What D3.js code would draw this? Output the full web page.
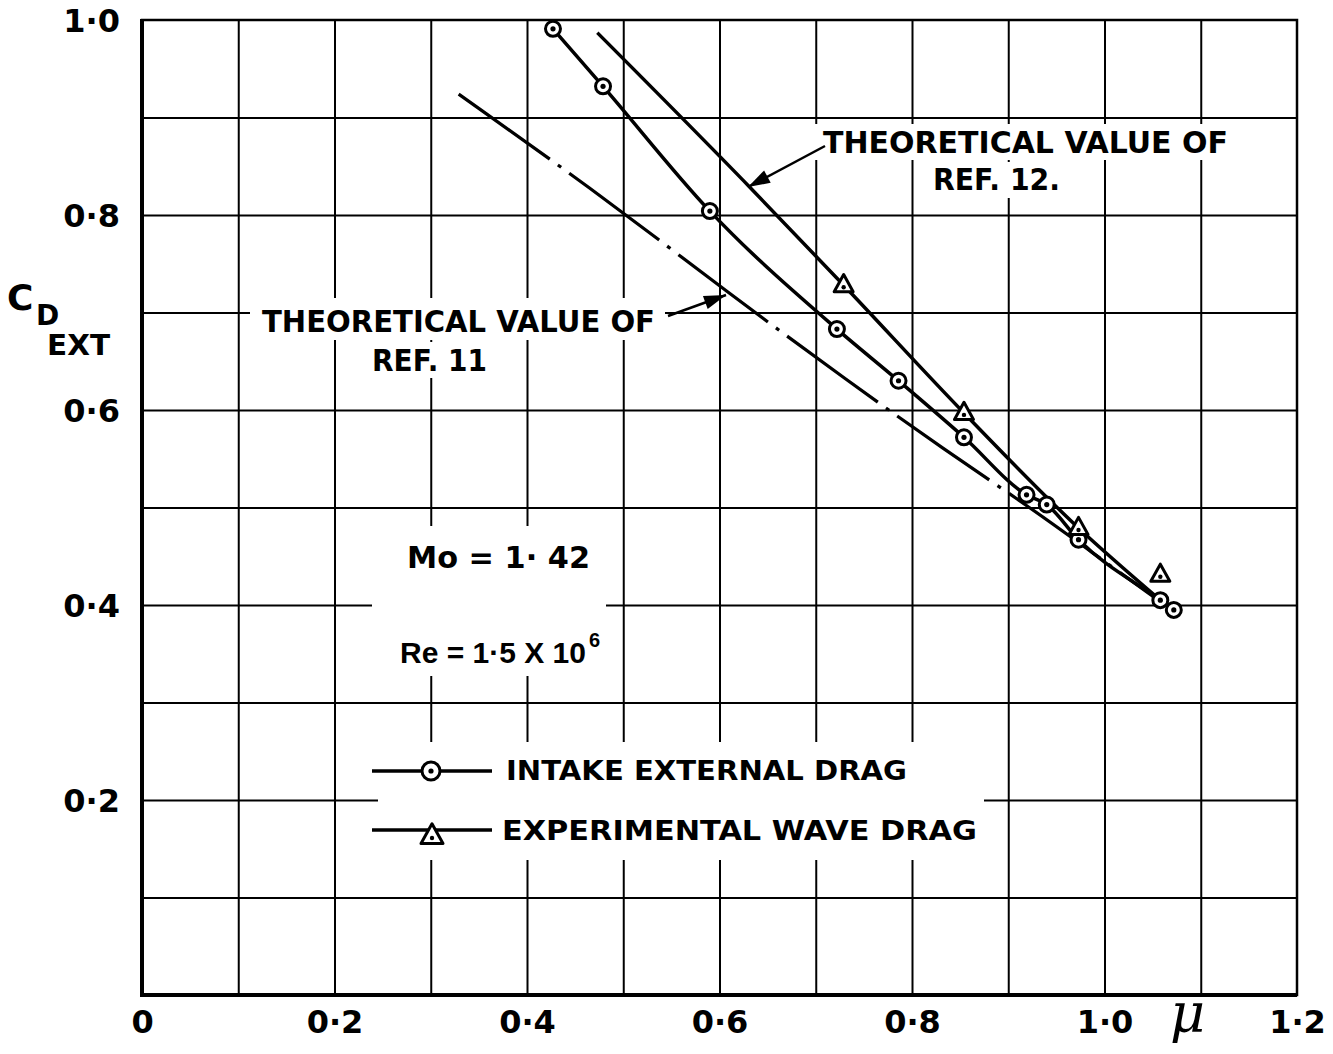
<!DOCTYPE html>
<html>
<head>
<meta charset="utf-8">
<script src="https://cdn.jsdelivr.net/npm/d3@7"></script>
<style>
  html, body { margin: 0; padding: 0; background: #fff; }
  svg { display: block; }
  text { font-family: "DejaVu Sans", sans-serif; font-weight: bold; fill: #000; }
</style>
</head>
<body>
<svg id="chart" width="1333" height="1054"></svg>
<script>
// ---- data ----
const xTickValues = [0, 0.2, 0.4, 0.6, 0.8, 1.0, 1.2];
const xTickLabels = ["0", "0·2", "0·4", "0·6", "0·8", "1·0", "1·2"];
const yTickValues = [0.2, 0.4, 0.6, 0.8, 1.0];
const yTickLabels = ["0·2", "0·4", "0·6", "0·8", "1·0"];
const gridMu = [0.1, 0.2, 0.3, 0.4, 0.5, 0.6, 0.7, 0.8, 0.9, 1.0, 1.1];
const gridCd = [0.1, 0.2, 0.3, 0.4, 0.5, 0.6, 0.7, 0.8, 0.9];

// Intake external drag (circles)
const intakeMu = [0.427, 0.479, 0.590, 0.722, 0.786, 0.854, 0.919, 0.940, 0.973, 1.058, 1.072];
const intakeCd = [0.991, 0.932, 0.804, 0.683, 0.630, 0.572, 0.513, 0.503, 0.467, 0.405, 0.395];

// Experimental wave drag (triangles)
const waveMu = [0.729, 0.854, 0.973, 1.058];
const waveCd = [0.728, 0.597, 0.479, 0.431];

// Theoretical value of Ref. 12 (solid)
const ref12Mu = [0.473, 0.632, 0.729, 0.854, 0.973, 1.058];
const ref12Cd = [0.987, 0.828, 0.728, 0.597, 0.479, 0.405];

// Theoretical value of Ref. 11 (dash-dot)
const ref11Mu = [0.329, 0.476, 0.609, 0.736, 0.834, 0.923, 0.994, 1.053];
const ref11Cd = [0.924, 0.821, 0.720, 0.628, 0.559, 0.500, 0.449, 0.407];

// ---- layout ----
const svg = d3.select("#chart");
const x = d3.scaleLinear().domain([0, 1.2]).range([142, 1297]);
const y = d3.scaleLinear().domain([0, 1.0]).range([995, 20]);
const plotH = y(0) - y(1);
const plotW = x(1.2) - x(0);

// grid via axes
const gx = svg.append("g").attr("transform", `translate(0,${y(0)})`)
  .call(d3.axisBottom(x).tickValues(gridMu).tickSize(-plotH).tickFormat(""));
gx.select(".domain").remove();
gx.selectAll("line").attr("stroke", "#000").attr("stroke-width", 2);

const gy = svg.append("g").attr("transform", `translate(${x(0)},0)`)
  .call(d3.axisLeft(y).tickValues(gridCd).tickSize(-plotW).tickFormat(""));
gy.select(".domain").remove();
gy.selectAll("line").attr("stroke", "#000").attr("stroke-width", 2);

// frame
svg.append("rect").attr("x", x(0)).attr("y", y(1)).attr("width", plotW).attr("height", plotH)
  .attr("fill", "none").attr("stroke", "#000").attr("stroke-width", 2.5);
svg.append("line").attr("x1", x(0)).attr("x2", x(0)).attr("y1", y(1) - 1).attr("y2", y(0) + 2)
  .attr("stroke", "#000").attr("stroke-width", 4);
svg.append("line").attr("x1", x(0)).attr("x2", x(1.2)).attr("y1", y(0)).attr("y2", y(0))
  .attr("stroke", "#000").attr("stroke-width", 4);

// tick labels via axes
const ax = svg.append("g").attr("transform", `translate(0,${y(0)})`)
  .call(d3.axisBottom(x).tickValues(xTickValues).tickSize(0).tickPadding(0)
    .tickFormat((d, i) => xTickLabels[i]));
ax.select(".domain").remove();
ax.selectAll("text").attr("y", 38).attr("dy", 0).style("font-size", "32px")
  .style("font-family", "'DejaVu Sans', sans-serif").style("font-weight", "bold");

const ay = svg.append("g").attr("transform", `translate(${x(0)},0)`)
  .call(d3.axisLeft(y).tickValues(yTickValues).tickSize(0).tickPadding(0)
    .tickFormat((d, i) => yTickLabels[i]));
ay.select(".domain").remove();
ay.selectAll("text").attr("x", -22).attr("dy", "0.36em").style("font-size", "32px")
  .style("font-family", "'DejaVu Sans', sans-serif").style("font-weight", "bold");

// white boxes behind lettering (break the grid)
const boxes = [
  [815, 124, 420, 36], [925, 162, 142, 36],
  [250, 298, 415, 42], [362, 342, 136, 36],
  [372, 526, 234, 150],
  [378, 742, 606, 118]
];
svg.selectAll("rect.bg").data(boxes).join("rect").attr("class", "bg")
  .attr("x", d => d[0]).attr("y", d => d[1]).attr("width", d => d[2]).attr("height", d => d[3])
  .attr("fill", "#fff");

// ---- series lines ----
const zip = (a, b) => a.map((v, i) => [v, b[i]]);
const line = d3.line().x(d => x(d[0])).y(d => y(d[1])).curve(d3.curveMonotoneX);
const smooth = d3.line().x(d => x(d[0])).y(d => y(d[1])).curve(d3.curveBasis);

svg.append("path").datum(zip(ref11Mu, ref11Cd)).attr("d", smooth)
  .attr("fill", "none").attr("stroke", "#000").attr("stroke-width", 3.2)
  .attr("stroke-dasharray", "112,10,4,10");
svg.append("path").datum(zip(ref12Mu, ref12Cd)).attr("d", line)
  .attr("fill", "none").attr("stroke", "#000").attr("stroke-width", 3.5);
svg.append("path").datum(zip(intakeMu, intakeCd)).attr("d", line)
  .attr("fill", "none").attr("stroke", "#000").attr("stroke-width", 3.5);

// markers
function circleMarker(g, cx, cy, r) {
  g.append("circle").attr("cx", cx).attr("cy", cy).attr("r", r)
    .attr("fill", "#fff").attr("stroke", "#000").attr("stroke-width", 3);
  g.append("circle").attr("cx", cx).attr("cy", cy).attr("r", 2.6).attr("fill", "#000");
}
function triMarker(g, cx, cy, s) {
  const h = s * 0.9;
  g.append("path")
    .attr("d", `M${cx},${cy - h * 0.62} L${cx + s / 2},${cy + h * 0.38} L${cx - s / 2},${cy + h * 0.38} Z`)
    .attr("fill", "#fff").attr("stroke", "#000").attr("stroke-width", 3).attr("stroke-linejoin", "round");
  g.append("circle").attr("cx", cx).attr("cy", cy + 2).attr("r", 2.2).attr("fill", "#000");
}
const mk = svg.append("g");
zip(intakeMu, intakeCd).forEach(d => circleMarker(mk, x(d[0]), y(d[1]), 7.5));
zip(waveMu, waveCd).forEach(d => triMarker(mk, x(d[0]), y(d[1]), 19));

// ---- annotations ----
function arrow(x1, y1, x2, y2) {
  svg.append("line").attr("x1", x1).attr("y1", y1).attr("x2", x2).attr("y2", y2)
    .attr("stroke", "#000").attr("stroke-width", 2.5);
  const ang = Math.atan2(y2 - y1, x2 - x1);
  const L = 22, W = 7;
  const bx = x2 - L * Math.cos(ang), by = y2 - L * Math.sin(ang);
  const px = -Math.sin(ang) * W, py = Math.cos(ang) * W;
  svg.append("path").attr("d", `M${x2},${y2} L${bx + px},${by + py} L${bx - px},${by - py} Z`)
    .attr("fill", "#000");
}
arrow(825, 146, 748, 187);
arrow(668, 316, 726, 295);

function label(txt, lx, ly, size, len) {
  const t = svg.append("text").attr("x", lx).attr("y", ly).style("font-size", size + "px").text(txt);
  if (len) t.attr("textLength", len).attr("lengthAdjust", "spacingAndGlyphs");
  return t;
}
label("THEORETICAL VALUE OF", 823, 153, 31, 405);
label("REF. 12.", 933, 190, 31, 127);
label("THEORETICAL VALUE OF", 262, 332, 31, 393);
label("REF. 11", 372, 371, 31, 115);
label("Mo  =  1· 42", 407, 568, 31, 183);
label("Re = 1·5 X 10", 400, 663, 30).style("font-family", "'Liberation Sans', sans-serif");
label("6", 589, 647, 20).style("font-family", "'Liberation Sans', sans-serif");

// legend
svg.append("line").attr("x1", 372).attr("x2", 492).attr("y1", 771).attr("y2", 771)
  .attr("stroke", "#000").attr("stroke-width", 3.5);
circleMarker(svg, 431, 771, 9);
svg.append("line").attr("x1", 372).attr("x2", 492).attr("y1", 830).attr("y2", 830)
  .attr("stroke", "#000").attr("stroke-width", 3.5);
triMarker(svg, 432, 836, 22);
label("INTAKE  EXTERNAL  DRAG", 506, 780, 27, 401);
label("EXPERIMENTAL  WAVE  DRAG", 502, 840, 27, 475);

// axis titles
label("C", 7, 310, 36);
label("D", 36, 325, 28);
label("EXT", 47, 355, 29, 63);
svg.append("text").attr("x", 1170).attr("y", 1032)
  .style("font-family", "'DejaVu Serif', serif").style("font-style", "italic")
  .style("font-weight", "normal").style("font-size", "54px").text("μ");
</script>
</body>
</html>
